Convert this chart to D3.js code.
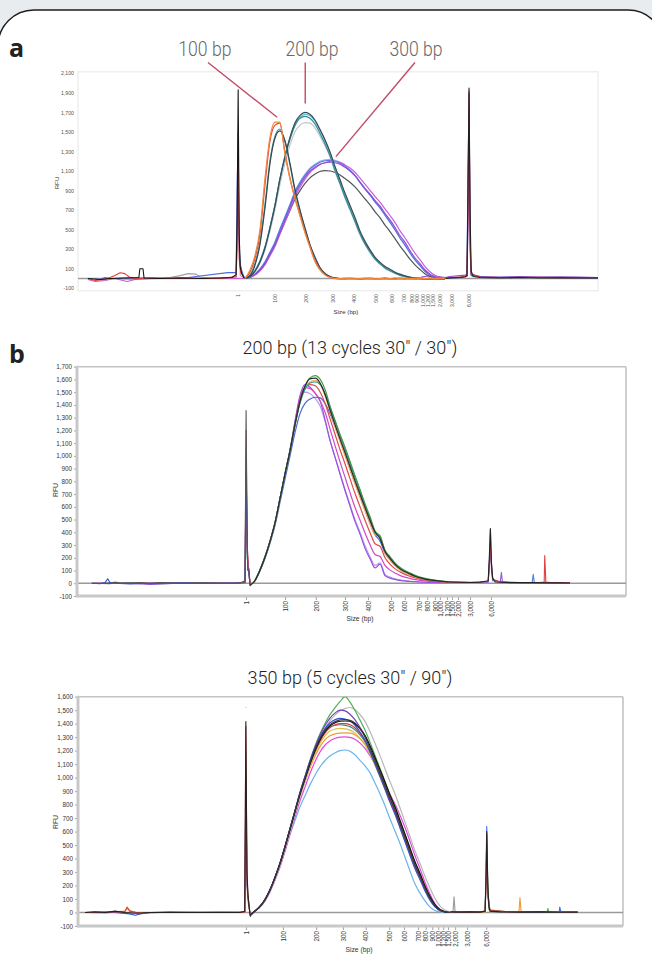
<!DOCTYPE html>
<html><head><meta charset="utf-8">
<script src="https://cdn.jsdelivr.net/npm/d3@7"></script>
<style>
html,body{margin:0;padding:0;background:#e9ecef;}
svg{display:block;}
</style></head><body>
<svg id="chart" width="652" height="978"></svg>
<script>
// ---------- sizing ladder (bp) and its position in each run (data points 0-1000)
const ladderSizes = [1,100,200,300,400,500,600,700,800,900,1000,1200,1500,2000,3000,6000];
const ladderScanA = [308,379,438,490,531,573,604,627,642,652,663,673,683,696,719,752];
const ladderScanB = [308,379,435,488,530,572,597,623,638,652,661,674,683,694,716,754];
const ladderScanC = [308,376,437,486,528,571,598,624,638,650,661,670,679,692,714,749];

// ---------- y tick values
const yTicksA = [-100,100,300,500,700,900,1100,1300,1500,1700,1900,2100];
const yTicksB = [-100,0,100,200,300,400,500,600,700,800,900,1000,1100,1200,1300,1400,1500,1600,1700];
const yTicksC = [-100,0,100,200,300,400,500,600,700,800,900,1000,1100,1200,1300,1400,1500,1600];

// ---------- panel a : sampling grid (data points) and RFU of each trace
const gridA = [321,331,340,350,360,369,379,388,398,408,417,427,437,446,456,465,475,485,494,504,513,523,533,542,552,562,571,581,590,600,610,619,629,638,648,658,667,677,687,696,706];
const a100Orange = [0,90,230,500,1050,1440,1600,1600,1270,1010,820,640,460,320,170,90,35,10,0,0,4,0,-4,0,5,0,-3,0,4,0,6,0,3,0,5,2,0,4,0,3,0];
const a100Red    = [0,70,200,460,980,1400,1570,1590,1290,1020,830,650,470,330,180,95,40,12,2,0,0,5,0,-5,0,5,0,0,5,0,0,5,0,3,0,5,0,2,6,0,2];
const a100Teal   = [0,40,150,380,780,1200,1460,1530,1400,1150,900,690,500,340,210,110,50,18,5,0,0,0,0,0,0,0,0,0,0,0,0,0,0,0,0,0,0,0,0,0,0];
const a100Dark   = [0,30,130,350,740,1170,1440,1510,1410,1170,920,700,510,350,215,115,52,20,6,0,0,0,0,0,0,0,0,0,0,0,0,0,0,0,0,0,0,0,0,0,0];
const a200Dark   = [0,20,70,170,320,510,750,1010,1250,1450,1590,1670,1700,1680,1620,1530,1420,1290,1150,1010,880,750,620,490,380,290,220,165,125,95,65,45,28,15,6,2,0,0,0,0,0];
const a200Teal   = [0,25,80,180,330,520,760,1010,1240,1430,1560,1640,1660,1640,1580,1490,1380,1250,1110,970,840,710,580,460,355,270,200,150,110,80,55,35,20,10,4,0,0,0,0,0,0];
const a200Cyan   = [0,25,80,180,330,520,760,1010,1250,1450,1580,1650,1680,1665,1610,1520,1410,1280,1140,1000,860,730,600,475,365,280,210,155,115,85,58,38,22,12,5,0,0,0,0,0,0];
const a200Gray   = [0,20,70,160,300,480,710,950,1180,1370,1500,1570,1595,1590,1540,1460,1360,1240,1100,960,830,700,570,450,345,260,195,145,105,75,50,32,18,8,3,0,0,0,0,0,0];
const a300Purple = [0,15,40,90,160,250,350,470,600,730,860,960,1040,1100,1140,1170,1185,1190,1185,1170,1140,1100,1050,990,920,860,800,740,670,600,520,440,370,290,210,150,90,45,15,5,0];
const a300Magenta= [0,12,35,80,145,230,330,450,575,705,830,935,1020,1085,1130,1165,1185,1198,1200,1190,1165,1130,1085,1030,965,900,840,780,715,645,570,490,415,340,260,190,125,70,30,10,0];
const a300Blue   = [0,15,45,95,170,265,370,495,625,755,880,980,1060,1120,1160,1190,1205,1210,1200,1180,1150,1105,1050,985,915,850,785,720,650,575,495,415,340,265,190,130,75,35,12,3,0];
const a300Sky    = [0,15,45,100,175,270,380,505,635,765,890,990,1070,1130,1172,1200,1215,1220,1210,1190,1155,1110,1055,990,920,855,790,725,655,580,500,420,345,270,195,135,80,38,14,4,0];
const a300Dark   = [0,12,35,80,150,240,340,455,580,700,810,900,975,1030,1070,1095,1105,1100,1085,1060,1025,985,935,880,815,750,685,620,550,480,405,335,265,200,140,90,50,22,8,2,0];
const peakTracesA = [a300Dark,a300Sky,a300Blue,a300Magenta,a300Purple,a200Gray,a200Cyan,a200Teal,a200Dark,a100Teal,a100Dark,a100Red,a100Orange];
const peakColorsA = ["#50545c","#86bfe9","#5b72e0","#cc5be0","#8c4fd2","#bcc5c8","#62bccb","#2f8f96","#3a4b57","#3fa0a0","#3a4650","#e0483c","#f08a3a"];
// baseline and size-standard peaks, [data point, RFU]
const baseA1 = [[19,0],[42,-10],[62,0],[90,5],[117,10],[119,100],[125,100],[127,5],[158,0],[196,5],[235,0],[273,5],[296,10],[304,40],[306,600],[308,1930],[310,450],[312,120],[315,50],[319,10],[321,0]];
const baseA2 = [[19,0],[33,-20],[52,-10],[71,30],[81,60],[90,50],[100,10],[110,0],[138,5],[177,0],[219,5],[273,0],[304,20],[306,300],[308,1200],[310,200],[313,60],[319,10],[321,0]];
const baseA3 = [[33,-5],[42,-10],[52,10],[62,0],[100,-5],[158,0],[212,10],[227,20],[288,60],[296,60],[304,60],[306,900],[308,1500],[310,300],[312,150],[315,80],[319,20],[321,0]];
const baseA4 = [[62,0],[110,10],[177,10],[196,30],[212,50],[227,45],[235,15],[254,5],[304,10],[308,800],[312,30],[321,0]];
const baseA5 = [[19,-10],[33,-30],[52,-20],[71,0],[94,-30],[110,-10],[138,0],[196,0],[273,0],[308,0],[321,0]];
const baseA6 = [[706,0],[715,5],[735,10],[744,15],[748,30],[750,900],[752,1950],[754,700],[756,80],[760,20],[773,10],[812,5],[850,10],[888,5],[927,8],[965,5],[1000,5]];
const baseA7 = [[706,5],[735,15],[748,20],[750,700],[752,1900],[754,400],[756,50],[773,15],[812,10],[888,12],[965,8],[1000,8]];
const baseA8 = [[706,5],[735,10],[748,30],[750,1100],[752,1880],[754,300],[756,30],[792,10],[850,12],[927,10],[1000,6]];
const baseA9 = [[660,15],[680,30],[706,10],[715,20],[735,30],[744,35],[748,40],[750,500],[752,1920],[754,500],[756,40],[773,20],[812,15],[850,20],[888,15],[927,18],[965,15],[1000,10]];
const baseTracesA = [baseA5,baseA4,baseA3,baseA2,baseA9,baseA8,baseA7,baseA1,baseA6];
const baseColorsA = ["#d05ad0","#a0a0a0","#5068e0","#e04040","#9050d0","#4060e0","#d83030","#151515","#202020"];
// annotations of panel a
const annoLabels = ["100 bp","200 bp","300 bp"];
const annoTextScan = [244,450,650];
const annoStartScan = [250,437,648];
const annoTargetScan = [383,437,496];
const annoTargetRfu = [1650,1790,1247];

// ---------- panel b
const gridB = [315,324,333,342,352,361,370,379,388,397,406,415,424,434,443,452,461,470,479,488,497,506,516,525,534,543,552,561,570,579,588,597,607,616,625,634,643,652,661,670,679];
const bGreen   = [-15,20,100,200,335,480,670,860,1040,1240,1420,1540,1610,1630,1600,1520,1390,1280,1170,1070,960,850,730,620,520,410,370,260,210,160,125,100,80,62,48,38,30,24,20,16,12];
const bDark    = [-15,20,100,200,335,480,670,860,1040,1245,1425,1545,1605,1610,1570,1480,1360,1245,1135,1030,920,810,695,590,490,400,350,250,195,150,115,92,72,55,42,33,26,20,16,13,10];
const bTeal    = [-15,20,100,200,335,480,670,860,1040,1240,1410,1520,1570,1580,1560,1490,1380,1270,1160,1055,945,835,715,605,505,405,360,255,205,155,120,96,76,58,45,35,28,22,18,14,11];
const bOrange  = [-15,20,100,200,335,480,670,860,1040,1240,1415,1530,1580,1590,1560,1470,1350,1230,1115,1005,895,785,670,565,465,380,375,240,185,140,108,85,66,50,38,30,24,19,15,12,10];
const bRed     = [-15,20,100,200,335,480,670,860,1040,1245,1430,1535,1560,1550,1500,1410,1290,1170,1050,940,825,710,595,490,395,310,290,200,150,115,90,70,54,42,33,26,20,16,13,10,8];
const bBlue    = [-15,20,95,190,320,460,640,820,1000,1180,1330,1410,1445,1460,1455,1410,1330,1230,1120,1010,900,790,675,570,470,380,330,235,185,140,108,85,66,50,38,30,24,19,15,12,10];
const bMagenta = [-15,20,100,200,335,480,670,860,1045,1255,1450,1535,1530,1490,1430,1340,1210,1080,955,835,715,600,490,390,300,225,210,140,105,80,62,48,37,29,23,18,14,12,10,8,6];
const bPurple  = [-15,20,100,200,335,480,670,860,1045,1270,1470,1560,1540,1490,1430,1280,1120,990,860,730,610,490,380,270,190,120,150,60,40,30,22,18,14,12,10,8,7,6,5,5,4];
const bLavender= [-15,20,100,200,335,480,670,860,1045,1260,1440,1500,1490,1450,1390,1270,1120,990,865,740,620,505,395,290,205,140,160,70,48,35,26,20,16,13,10,8,7,6,5,5,4];
const peakTracesB = [bLavender,bPurple,bMagenta,bBlue,bRed,bOrange,bTeal,bGreen,bDark];
const peakColorsB = ["#b79be8","#9452e0","#d446c8","#4a68d8","#e04a4a","#f0a850","#2f9c9c","#3f9a4a","#2b2b2b"];
const baseB1 = [[27,0],[42,-3],[51,5],[56,35],[60,5],[69,0],[97,-5],[133,0],[188,3],[260,0],[297,0],[306,20],[308,870],[310,400],[311,120],[313,90],[315,-10],[317,-15]];
const baseB2 = [[27,0],[60,-3],[69,8],[78,0],[115,5],[133,0],[151,5],[188,0],[224,3],[288,0],[306,10],[308,1355],[310,300],[311,100],[313,110],[315,-15],[317,-20]];
const baseB3 = [[51,0],[69,8],[78,5],[115,0],[133,-5],[188,0],[260,0],[306,5],[308,600],[310,200],[313,100],[315,-10],[317,-15]];
const baseB4 = [[27,0],[97,0],[133,-10],[151,-5],[188,0],[260,2],[306,5],[308,1000],[310,250],[313,100],[315,-15],[317,-20]];
const baseB5 = [[27,0],[115,0],[188,2],[288,0],[306,5],[308,1200],[310,300],[313,80],[317,-15]];
const baseB6 = [[679,10],[698,8],[716,6],[734,8],[749,20],[751,200],[753,430],[755,150],[757,40],[762,10],[789,5],[829,5],[852,3],[880,4],[898,2]];
const baseB7 = [[679,10],[716,6],[749,15],[751,150],[753,420],[755,100],[758,30],[771,10],[807,5],[843,5],[851,10],[852,217],[854,10],[862,5],[898,3]];
const baseB8 = [[679,10],[716,8],[749,10],[753,300],[757,30],[771,10],[773,85],[775,10],[807,5],[880,5],[898,3]];
const baseB9 = [[679,8],[716,6],[749,10],[753,250],[757,20],[789,5],[829,5],[831,70],[833,5],[862,4],[898,2]];
const baseTracesB = [baseB3,baseB4,baseB5,baseB1,baseB2,baseB9,baseB8,baseB7,baseB6];
const baseColorsB = ["#3f9a4a","#9452e0","#e04a4a","#3050d0","#555555","#4a80e0","#a050e0","#e04040","#222222"];

// ---------- panel c
const gridC = [316,325,334,343,352,361,371,380,389,398,407,417,426,435,444,453,462,472,481,490,499,508,517,527,536,545,554,563,572,582,591,600,609,618,628,637,646,655,664,673,683];
const cDark     = [-20,12,45,95,165,255,370,490,620,750,880,1005,1115,1210,1290,1350,1390,1415,1428,1430,1425,1405,1365,1300,1215,1125,1035,945,850,755,655,555,455,355,265,180,105,50,18,5,0];
const cBlack    = [-20,12,45,95,165,255,368,488,615,745,872,995,1105,1200,1280,1340,1382,1408,1418,1420,1418,1400,1365,1310,1235,1150,1060,970,875,780,680,580,480,380,285,195,118,58,22,6,0];
const cBlue     = [-20,12,45,95,165,255,370,490,622,752,882,1010,1120,1218,1300,1362,1405,1430,1440,1435,1420,1390,1340,1275,1190,1100,1010,918,822,725,625,525,425,328,240,158,90,42,15,4,0];
const cRed      = [-20,12,45,95,165,255,370,490,620,748,875,1000,1105,1195,1270,1330,1370,1392,1400,1400,1392,1370,1330,1272,1195,1110,1020,930,838,742,645,545,448,350,260,175,102,48,17,5,0];
const cGreen    = [-20,12,45,95,165,255,370,490,622,752,885,1015,1130,1235,1325,1400,1465,1520,1565,1600,1560,1500,1430,1350,1260,1165,1070,975,878,780,680,578,475,372,278,190,112,54,19,5,0];
const cLightGray= [-20,10,40,88,155,240,350,468,595,725,855,980,1095,1195,1285,1360,1420,1465,1495,1512,1520,1505,1470,1415,1340,1255,1165,1070,975,875,775,670,565,460,360,265,180,105,50,18,5];
const cPurple   = [-20,12,45,95,165,255,370,490,622,752,885,1015,1130,1230,1315,1385,1440,1480,1500,1495,1470,1430,1375,1305,1220,1130,1040,945,850,752,652,552,450,350,260,175,102,48,16,4,0];
const cMagenta  = [-20,10,40,85,150,235,340,455,580,705,825,935,1035,1120,1190,1240,1272,1292,1300,1302,1298,1285,1258,1215,1160,1100,1030,955,880,800,720,630,530,425,320,220,135,65,25,8,0];
const cOrange   = [-20,12,45,95,165,255,368,485,610,735,860,975,1075,1160,1230,1280,1310,1325,1330,1332,1330,1318,1290,1245,1180,1105,1025,940,850,758,660,560,460,360,268,182,108,50,17,5,0];
const cYellow   = [-20,12,45,95,165,255,368,486,612,740,865,985,1090,1180,1255,1310,1345,1360,1365,1362,1352,1330,1295,1240,1170,1090,1005,915,822,728,630,532,435,338,250,168,98,45,15,4,0];
const cLightBlue= [-20,12,45,95,165,250,355,465,580,680,780,870,950,1020,1080,1125,1160,1185,1200,1205,1195,1170,1130,1085,1035,960,880,795,700,600,510,410,310,215,140,85,40,15,5,0,0];
const cTeal     = [-20,12,45,95,165,255,370,490,620,750,878,1002,1110,1202,1278,1338,1375,1388,1392,1388,1378,1355,1318,1262,1190,1108,1020,930,835,740,642,542,442,345,255,172,100,46,16,4,0];
const peakTracesC = [cLightBlue,cMagenta,cOrange,cYellow,cLightGray,cGreen,cPurple,cTeal,cRed,cBlue,cBlack,cDark];
const peakColorsC = ["#6ab4ea","#e646e0","#f09a3a","#d6c24a","#b8b8b8","#4fb04f","#7040c0","#2f9090","#d83a3a","#3550c8","#111111","#3a3a3a"];
const baseC1 = [[13,0],[31,5],[50,0],[68,10],[86,0],[105,-5],[132,0],[169,3],[224,0],[297,0],[306,10],[308,1415],[310,300],[312,130],[314,40],[316,-25],[317,-30]];
const baseC2 = [[13,0],[50,5],[86,5],[90,40],[95,10],[114,-5],[150,0],[224,2],[297,0],[306,5],[308,1380],[310,250],[312,120],[316,-20],[317,-25]];
const baseC3 = [[31,0],[68,0],[95,-10],[105,-20],[114,-10],[132,0],[187,0],[261,3],[306,5],[308,1000],[310,200],[312,110],[316,-20]];
const baseC4 = [[13,0],[50,-5],[68,5],[86,10],[90,30],[95,15],[105,0],[150,0],[224,0],[306,0],[308,900],[311,100],[316,-15]];
const baseC5 = [[683,5],[701,3],[719,5],[738,3],[747,10],[749,300],[750,600],[752,200],[754,40],[756,10],[774,5],[811,3],[848,5],[884,2],[917,3]];
const baseC6 = [[683,3],[719,5],[747,8],[749,400],[750,637],[752,150],[756,10],[793,5],[848,3],[883,5],[884,40],[886,5],[917,2]];
const baseC7 = [[683,5],[738,5],[747,10],[749,250],[750,580],[752,120],[756,15],[793,5],[848,8],[903,5],[917,3]];
const baseC8 = [[683,3],[719,3],[747,5],[750,500],[752,100],[756,10],[793,5],[809,5],[811,110],[813,5],[848,5],[917,2]];
const baseC9 = [[683,3],[747,5],[750,400],[754,20],[793,3],[848,5],[861,5],[862,30],[864,5],[917,2]];
const baseC10= [[683,0],[688,0],[690,117],[692,0],[700,0]];
const markC  = [[307,1520],[309,1520]];
const baseTracesC = [baseC4,baseC3,baseC2,baseC1,baseC10,baseC9,baseC8,baseC6,baseC7,baseC5,markC];
const baseColorsC = ["#f09a3a","#3550c8","#d83a3a","#222222","#999999","#4fb04f","#f09a3a","#3a70e0","#d83a3a","#222222","#bbbbbb"];

// ---------- drawing
const svg = d3.select("#chart");
svg.append("rect").attr("x",-2).attr("y",10).attr("width",666).attr("height",1010)
  .attr("rx",36).attr("fill","#ffffff").attr("stroke","#1c1c1c").attr("stroke-width",1.5);

const fmtN = d3.format(",");
const fmt = d => d < 0 ? "-" + fmtN(-d) : fmtN(d);
const TICKFONT = "'Liberation Sans', Arial, sans-serif";

function drawPanel(p) {
  const x = d3.scaleLinear().domain([0,1000]).range(p.xRange);
  const y = d3.scaleLinear().domain(p.yDomain).range(p.yRange);
  const g = svg.append("g");
  const x0 = p.xRange[0], x1 = p.xRange[1], yb = p.yRange[0], yt = p.yRange[1];

  if (p.style === "light") {
    g.append("rect").attr("x",x0).attr("y",yt-1.5).attr("width",x1-x0).attr("height",yb-yt+4)
      .attr("fill","none").attr("stroke","#ececec").attr("stroke-width",1.2);
  } else {
    g.append("line").attr("x1",x0).attr("x2",x1).attr("y1",yt).attr("y2",yt).attr("stroke","#c4c4c4").attr("stroke-width",1.6);
    g.append("line").attr("x1",x1).attr("x2",x1).attr("y1",yt).attr("y2",yb).attr("stroke","#c4c4c4").attr("stroke-width",1.6);
  }
  g.append("line").attr("x1",x0).attr("x2",x1).attr("y1",y(0)).attr("y2",y(0))
    .attr("stroke","#9a9a9a").attr("stroke-width",1.6);

  svg.append("clipPath").attr("id","clip"+p.id).append("rect")
    .attr("x",x0).attr("y",yt).attr("width",x1-x0).attr("height",yb-yt);
  const plot = g.append("g").attr("clip-path","url(#clip"+p.id+")");
  const sharp = d3.line().x(d=>x(d[0])).y(d=>y(d[1]));
  const smooth = d3.line().x(d=>x(d[0])).y(d=>y(d[1])).curve(d3.curveMonotoneX);
  p.baseTraces.forEach((t,i)=>{
    plot.append("path").datum(t).attr("d",sharp).attr("fill","none")
      .attr("stroke",p.baseColors[i]).attr("stroke-width",1.1).attr("stroke-linejoin","round");
  });
  p.peakTraces.forEach((vals,i)=>{
    plot.append("path").datum(p.grid.map((s,j)=>[s,vals[j]])).attr("d",smooth).attr("fill","none")
      .attr("stroke",p.peakColors[i]).attr("stroke-width",1.2).attr("stroke-linejoin","round");
  });

  const yg = g.append("g").attr("transform",`translate(${x0},0)`)
    .call(d3.axisLeft(y).tickValues(p.yTicks).tickFormat(fmt).tickSize(p.tickLen).tickPadding(p.tickPad));
  yg.select(".domain").remove();
  yg.selectAll(".tick line").attr("stroke","#8a8a8a").attr("stroke-width",0.8);
  yg.selectAll(".tick text").attr("font-family",TICKFONT).attr("font-size",p.tickFont).attr("fill",p.tickColor);

  const sizeOf = new Map(p.ladder.map((s,i)=>[s,ladderSizes[i]]));
  const xg = g.append("g").attr("transform",`translate(0,${p.xAxisY})`)
    .call(d3.axisBottom(x).tickValues(p.ladder).tickFormat(d=>fmt(sizeOf.get(d))).tickSize(p.tickLen));
  xg.select(".domain").remove();
  xg.selectAll(".tick line").attr("stroke","#8a8a8a").attr("stroke-width",0.8);
  xg.selectAll(".tick text").attr("font-family",TICKFONT).attr("font-size",p.tickFont).attr("fill",p.tickColor)
    .attr("transform","rotate(-90)").attr("text-anchor","end").attr("x",-(p.tickLen+p.xLabPad)).attr("y",0).attr("dy","0.35em");

  if (p.style !== "light") {
    g.append("line").attr("x1",x0).attr("x2",x0).attr("y1",yt-1).attr("y2",yb+1.5).attr("stroke","#c8c8c8").attr("stroke-width",3);
    g.append("line").attr("x1",x0).attr("x2",x1).attr("y1",yb).attr("y2",yb).attr("stroke","#c8c8c8").attr("stroke-width",3);
  }

  g.append("text").attr("transform",`translate(${p.rfuX},${p.rfuY}) rotate(-90)`).attr("text-anchor","middle")
    .attr("font-family",TICKFONT).attr("font-size",p.titleFont).attr("fill","#333").text("RFU");
  g.append("text").attr("x",p.sizeX).attr("y",p.sizeY).attr("text-anchor","middle")
    .attr("font-family",TICKFONT).attr("font-size",p.titleFont).attr("fill","#333").text("Size (bp)");
  return {x,y,g};
}

const pa = drawPanel({id:"a", style:"light", xRange:[78,598], yDomain:[-100,2100], yRange:[288.3,73.3],
  yTicks:yTicksA, ladder:ladderScanA, grid:gridA, peakTraces:peakTracesA, peakColors:peakColorsA,
  baseTraces:baseTracesA, baseColors:baseColorsA, tickLen:0, tickPad:4, xLabPad:4, xAxisY:290,
  tickFont:5.2, tickColor:"#555", titleFont:6.2, rfuX:59, rfuY:183, sizeX:346, sizeY:314});

const pb = drawPanel({id:"b", style:"box", xRange:[77,626], yDomain:[-100,1700], yRange:[596,366.7],
  yTicks:yTicksB, ladder:ladderScanB, grid:gridB, peakTraces:peakTracesB, peakColors:peakColorsB,
  baseTraces:baseTracesB, baseColors:baseColorsB, tickLen:3, tickPad:2, xLabPad:1, xAxisY:597,
  tickFont:6.3, tickColor:"#333", titleFont:6.8, rfuX:58, rfuY:490, sizeX:360, sizeY:621});

const pc = drawPanel({id:"c", style:"box", xRange:[78,623], yDomain:[-100,1600], yRange:[926,696.7],
  yTicks:yTicksC, ladder:ladderScanC, grid:gridC, peakTraces:peakTracesC, peakColors:peakColorsC,
  baseTraces:baseTracesC, baseColors:baseColorsC, tickLen:3, tickPad:2, xLabPad:1, xAxisY:927,
  tickFont:6.3, tickColor:"#333", titleFont:6.8, rfuX:58, rfuY:822, sizeX:359, sizeY:952});

// annotations panel a
const annoG = svg.append("g");
annoLabels.forEach((lab,i)=>{
  annoG.append("line").attr("x1",pa.x(annoStartScan[i])).attr("y1",pa.y(2210))
    .attr("x2",pa.x(annoTargetScan[i])).attr("y2",pa.y(annoTargetRfu[i]))
    .attr("stroke","#c24a62").attr("stroke-width",1.4);
  annoG.append("text")
    .attr("transform",`translate(${pa.x(annoTextScan[i])},${pa.y(2275)}) scale(0.86,1)`)
    .attr("text-anchor","middle").attr("font-family","Roboto,sans-serif").attr("font-weight",300)
    .attr("font-size",20.5).attr("fill","#666").text(lab);
});

// panel letters and titles
svg.append("text").attr("x",9).attr("y",57).attr("font-family","'Open Sans',sans-serif").attr("font-weight",700)
  .attr("font-size",25).attr("fill","#222").text("a");
svg.append("text").attr("x",9).attr("y",363).attr("font-family","'Open Sans',sans-serif").attr("font-weight",700)
  .attr("font-size",25).attr("fill","#222").text("b");
svg.append("text").attr("x",350).attr("y",354).attr("text-anchor","middle").attr("font-family","Roboto,sans-serif")
  .attr("font-weight",300).attr("font-size",18).attr("fill","#222").text("200 bp (13 cycles 30\" / 30\")");
svg.append("text").attr("x",350).attr("y",684).attr("text-anchor","middle").attr("font-family","Roboto,sans-serif")
  .attr("font-weight",300).attr("font-size",18).attr("fill","#222").text("350 bp (5 cycles 30\" / 90\")");
</script></body></html>
